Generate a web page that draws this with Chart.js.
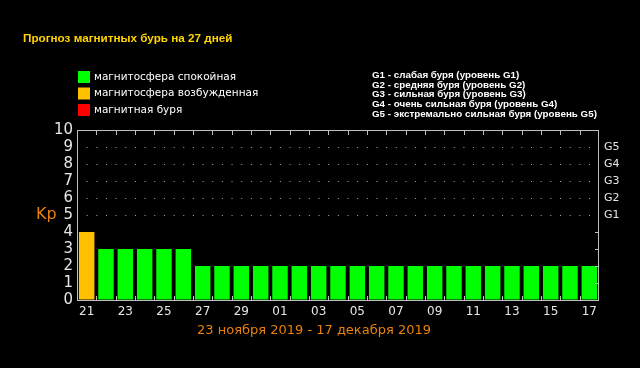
<!DOCTYPE html>
<html>
<head>
<meta charset="utf-8">
<script src="https://cdn.jsdelivr.net/npm/chart.js@4/dist/chart.umd.min.js"></script>
<style>
body{margin:0;background:#000}
#wrap{width:640px;height:368px}
</style>
</head>
<body>
<div id="wrap"><canvas id="kp" width="640" height="368"></canvas></div>
<script>
// 27 дней: 21 ноября - 17 декабря
const days = ['21','22','23','24','25','26','27','28','29','30',
	'01','02','03','04','05','06','07','08','09','10','11','12','13','14','15','16','17']
const kpValues = [4,3,3,3,3,3,2,2,2,2,2,2,2,2,2,2,2,2,2,2,2,2,2,2,2,2,2]
const gLabels = ['G1','G2','G3','G4','G5']   // Kp 5..9
const legendLeft = ['магнитосфера спокойная','магнитосфера возбужденная','магнитная буря']
const legendRight = [
	'G1 - слабая буря (уровень G1)',
	'G2 - средняя буря (уровень G2)',
	'G3 - сильная буря (уровень G3)',
	'G4 - очень сильная буря (уровень G4)',
	'G5 - экстремально сильная буря (уровень G5)'
]
const titleText = 'Прогноз магнитных бурь на 27 дней'
const periodText = '23 ноября 2019 - 17 декабря 2019'

const GREEN = '#00ff00'
const ORANGE = '#ffc000'
const RED = '#ff0000'
const legendColors = [GREEN, ORANGE, RED]

function kpColor(v) {
	if (v >= 5) return RED
	if (v >= 4) return ORANGE
	return GREEN
}

const decorations = {
	id: 'decorations',
	afterDraw(chart) {
		const ctx = chart.ctx
		const area = chart.chartArea
		const x = chart.scales.x
		const y = chart.scales.y
		ctx.save()

		// рамка и засечки
		ctx.strokeStyle = '#c0c0c0'
		ctx.lineWidth = 1
		ctx.strokeRect(Math.round(area.left) + 0.5, Math.round(area.top) + 0.5,
			Math.round(area.right - area.left) - 1, Math.round(area.bottom - area.top))
		ctx.beginPath()
		for (let i = 1; i < days.length; i++) {
			const px = Math.round((x.getPixelForValue(i - 1) + x.getPixelForValue(i)) / 2) + 0.5
			ctx.moveTo(px, area.top)
			ctx.lineTo(px, area.top + 5)
			ctx.moveTo(px, area.bottom)
			ctx.lineTo(px, area.bottom - 4)
		}
		for (let v = 1; v <= 4; v++) {
			const py = Math.round(y.getPixelForValue(v)) + 0.5
			ctx.moveTo(area.right - 4, py)
			ctx.lineTo(area.right, py)
		}
		ctx.stroke()

		// заголовок
		ctx.textBaseline = 'middle'
		ctx.textAlign = 'left'
		ctx.fillStyle = '#ffd400'
		ctx.font = 'bold 11.7px "Liberation Sans"'
		ctx.fillText(titleText, 23, 39)

		// легенда слева
		ctx.font = '10.5px "DejaVu Sans"'
		legendLeft.forEach((t, i) => {
			const ly = 71 + i * 16.5
			ctx.fillStyle = legendColors[i]
			ctx.fillRect(78, ly, 12, 12)
			ctx.fillStyle = '#ffffff'
			ctx.fillText(t, 94, ly + 6)
		})

		// легенда справа
		ctx.font = 'bold 9.8px "Liberation Sans"'
		ctx.fillStyle = '#ffffff'
		legendRight.forEach((t, i) => {
			ctx.fillText(t, 372, 75 + i * 9.8)
		})

		// Kp
		ctx.fillStyle = '#e8820c'
		ctx.font = '16px "DejaVu Sans"'
		ctx.fillText('Kp', 36, 215)

		// период
		ctx.textAlign = 'center'
		ctx.font = '13px "DejaVu Sans"'
		ctx.fillText(periodText, 314, 331)
		ctx.restore()
	}
}

const ctx = document.getElementById('kp').getContext('2d')
new Chart(ctx, {
	type: 'bar',
	data: {
		labels: days,
		datasets: [{
			data: kpValues,
			backgroundColor: kpValues.map(kpColor),
			borderWidth: 0,
			barPercentage: 0.8,
			categoryPercentage: 1,
			yAxisID: 'y',
		}],
	},
	options: {
		responsive: false,
		animation: false,
		events: [],
		layout: {padding: {top: 130, left: 0, right: 0, bottom: 0}},
		plugins: {legend: {display: false}, tooltip: {enabled: false}},
		scales: {
			x: {
				grid: {display: false, drawTicks: false},
				border: {display: false},
				ticks: {
					autoSkip: false,
					maxRotation: 0,
					padding: 5,
					color: '#e6e6e6',
					font: {family: 'DejaVu Sans', size: 12},
					callback: (v, i) => i % 2 === 0 ? days[i] : '',
				},
				afterFit: (s) => { s.height = 68 },
			},
			y: {
				position: 'left',
				min: 0,
				max: 10,
				grid: {
					drawTicks: false,
					color: (c) => c.tick && c.tick.value >= 5 && c.tick.value <= 9 ? '#a8a8a8' : 'rgba(0,0,0,0)',
				},
				border: {display: false, dash: [1, 8.66]},
				ticks: {
					stepSize: 1,
					autoSkip: false,
					padding: 4,
					color: '#e6e6e6',
					font: {family: 'DejaVu Sans', size: 15, lineHeight: 1},
				},
				afterFit: (s) => { s.width = 77 },
			},
			y2: {
				position: 'right',
				min: 0,
				max: 10,
				grid: {display: false, drawTicks: false},
				border: {display: false},
				ticks: {
					stepSize: 1,
					autoSkip: false,
					padding: 5,
					color: '#e6e6e6',
					font: {family: 'DejaVu Sans', size: 11, lineHeight: 1},
					callback: (v) => v >= 5 && v <= 9 ? gLabels[v - 5] : '',
				},
				afterFit: (s) => { s.width = 41 },
			},
		},
	},
	plugins: [decorations],
})
</script>
</body>
</html>
